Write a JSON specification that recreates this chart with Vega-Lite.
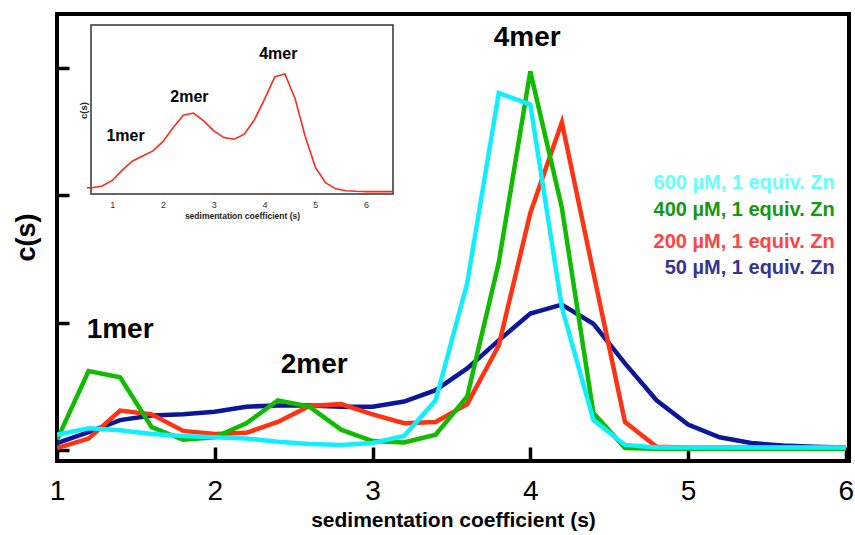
{
  "$schema": "https://vega.github.io/schema/vega-lite/v6.json",
  "autosize": {"type": "none"},
  "padding": {"left": 57, "top": 14, "right": 6, "bottom": 74},
  "width": 792,
  "height": 447,
  "background": "white",
  "view": {"stroke": "black", "strokeWidth": 4},
  "config": {"font": "Liberation Sans", "axis": {"grid": false}},
  "datasets": {
    "curves": [
      {"sample": "50", "s": 1.0, "c": 0.055}, {"sample": "50", "s": 1.2, "c": 0.14}, {"sample": "50", "s": 1.4, "c": 0.235}, {"sample": "50", "s": 1.6, "c": 0.27}, {"sample": "50", "s": 1.8, "c": 0.28}, {"sample": "50", "s": 2.0, "c": 0.30}, {"sample": "50", "s": 2.2, "c": 0.34}, {"sample": "50", "s": 2.4, "c": 0.35}, {"sample": "50", "s": 2.6, "c": 0.35}, {"sample": "50", "s": 2.8, "c": 0.34}, {"sample": "50", "s": 3.0, "c": 0.34}, {"sample": "50", "s": 3.2, "c": 0.38}, {"sample": "50", "s": 3.4, "c": 0.47}, {"sample": "50", "s": 3.6, "c": 0.64}, {"sample": "50", "s": 3.8, "c": 0.86}, {"sample": "50", "s": 4.0, "c": 1.07}, {"sample": "50", "s": 4.2, "c": 1.14}, {"sample": "50", "s": 4.4, "c": 0.99}, {"sample": "50", "s": 4.6, "c": 0.68}, {"sample": "50", "s": 4.8, "c": 0.39}, {"sample": "50", "s": 5.0, "c": 0.20}, {"sample": "50", "s": 5.2, "c": 0.10}, {"sample": "50", "s": 5.4, "c": 0.055}, {"sample": "50", "s": 5.6, "c": 0.035}, {"sample": "50", "s": 5.8, "c": 0.025}, {"sample": "50", "s": 6.0, "c": 0.02},
      {"sample": "200", "s": 1.0, "c": 0.015}, {"sample": "200", "s": 1.2, "c": 0.09}, {"sample": "200", "s": 1.4, "c": 0.31}, {"sample": "200", "s": 1.6, "c": 0.28}, {"sample": "200", "s": 1.8, "c": 0.15}, {"sample": "200", "s": 2.0, "c": 0.125}, {"sample": "200", "s": 2.2, "c": 0.135}, {"sample": "200", "s": 2.4, "c": 0.22}, {"sample": "200", "s": 2.6, "c": 0.345}, {"sample": "200", "s": 2.8, "c": 0.36}, {"sample": "200", "s": 3.0, "c": 0.28}, {"sample": "200", "s": 3.2, "c": 0.21}, {"sample": "200", "s": 3.4, "c": 0.22}, {"sample": "200", "s": 3.6, "c": 0.36}, {"sample": "200", "s": 3.8, "c": 0.82}, {"sample": "200", "s": 4.0, "c": 1.86}, {"sample": "200", "s": 4.2, "c": 2.57}, {"sample": "200", "s": 4.4, "c": 1.39}, {"sample": "200", "s": 4.6, "c": 0.22}, {"sample": "200", "s": 4.8, "c": 0.025}, {"sample": "200", "s": 5.0, "c": 0.02}, {"sample": "200", "s": 5.2, "c": 0.02}, {"sample": "200", "s": 5.4, "c": 0.02}, {"sample": "200", "s": 5.6, "c": 0.02}, {"sample": "200", "s": 5.8, "c": 0.02}, {"sample": "200", "s": 6.0, "c": 0.02},
      {"sample": "400", "s": 1.0, "c": 0.08}, {"sample": "400", "s": 1.2, "c": 0.62}, {"sample": "400", "s": 1.4, "c": 0.57}, {"sample": "400", "s": 1.6, "c": 0.18}, {"sample": "400", "s": 1.8, "c": 0.08}, {"sample": "400", "s": 2.0, "c": 0.10}, {"sample": "400", "s": 2.2, "c": 0.21}, {"sample": "400", "s": 2.4, "c": 0.39}, {"sample": "400", "s": 2.6, "c": 0.34}, {"sample": "400", "s": 2.8, "c": 0.16}, {"sample": "400", "s": 3.0, "c": 0.07}, {"sample": "400", "s": 3.2, "c": 0.06}, {"sample": "400", "s": 3.4, "c": 0.12}, {"sample": "400", "s": 3.6, "c": 0.42}, {"sample": "400", "s": 3.8, "c": 1.47}, {"sample": "400", "s": 4.0, "c": 2.97}, {"sample": "400", "s": 4.2, "c": 1.90}, {"sample": "400", "s": 4.4, "c": 0.29}, {"sample": "400", "s": 4.6, "c": 0.015}, {"sample": "400", "s": 4.8, "c": 0.01}, {"sample": "400", "s": 5.0, "c": 0.01}, {"sample": "400", "s": 5.2, "c": 0.01}, {"sample": "400", "s": 5.4, "c": 0.01}, {"sample": "400", "s": 5.6, "c": 0.01}, {"sample": "400", "s": 5.8, "c": 0.01}, {"sample": "400", "s": 6.0, "c": 0.01},
      {"sample": "600", "s": 1.0, "c": 0.12}, {"sample": "600", "s": 1.2, "c": 0.17}, {"sample": "600", "s": 1.4, "c": 0.155}, {"sample": "600", "s": 1.6, "c": 0.125}, {"sample": "600", "s": 1.8, "c": 0.11}, {"sample": "600", "s": 2.0, "c": 0.10}, {"sample": "600", "s": 2.2, "c": 0.09}, {"sample": "600", "s": 2.4, "c": 0.065}, {"sample": "600", "s": 2.6, "c": 0.047}, {"sample": "600", "s": 2.8, "c": 0.04}, {"sample": "600", "s": 3.0, "c": 0.055}, {"sample": "600", "s": 3.2, "c": 0.11}, {"sample": "600", "s": 3.4, "c": 0.39}, {"sample": "600", "s": 3.6, "c": 1.31}, {"sample": "600", "s": 3.8, "c": 2.80}, {"sample": "600", "s": 4.0, "c": 2.71}, {"sample": "600", "s": 4.2, "c": 1.12}, {"sample": "600", "s": 4.4, "c": 0.235}, {"sample": "600", "s": 4.6, "c": 0.04}, {"sample": "600", "s": 4.8, "c": 0.02}, {"sample": "600", "s": 5.0, "c": 0.02}, {"sample": "600", "s": 5.2, "c": 0.02}, {"sample": "600", "s": 5.4, "c": 0.02}, {"sample": "600", "s": 5.6, "c": 0.02}, {"sample": "600", "s": 5.8, "c": 0.02}, {"sample": "600", "s": 6.0, "c": 0.02}
    ],
    "peaks": [
      {"label": "1mer", "s": 1.40, "c": 0.94},
      {"label": "2mer", "s": 2.63, "c": 0.67},
      {"label": "4mer", "s": 3.98, "c": 3.23}
    ],
    "legendRows": [
      {"sample": "600", "text": "600 µM, 1 equiv. Zn", "s": 5.93, "c": 2.094},
      {"sample": "400", "text": "400 µM, 1 equiv. Zn", "s": 5.93, "c": 1.882},
      {"sample": "200", "text": "200 µM, 1 equiv. Zn", "s": 5.93, "c": 1.631},
      {"sample": "50", "text": "50 µM, 1 equiv. Zn", "s": 5.93, "c": 1.427}
    ],
    "inset": [
      {"s": 0.5, "c": 0.09}, {"s": 0.6, "c": 0.09}, {"s": 0.8, "c": 0.12}, {"s": 1.0, "c": 0.22}, {"s": 1.2, "c": 0.41}, {"s": 1.4, "c": 0.57}, {"s": 1.6, "c": 0.66}, {"s": 1.8, "c": 0.75}, {"s": 2.0, "c": 0.92}, {"s": 2.2, "c": 1.17}, {"s": 2.4, "c": 1.39}, {"s": 2.6, "c": 1.43}, {"s": 2.8, "c": 1.29}, {"s": 3.0, "c": 1.11}, {"s": 3.2, "c": 0.99}, {"s": 3.4, "c": 0.96}, {"s": 3.6, "c": 1.05}, {"s": 3.8, "c": 1.31}, {"s": 4.0, "c": 1.68}, {"s": 4.2, "c": 2.08}, {"s": 4.4, "c": 2.13}, {"s": 4.6, "c": 1.69}, {"s": 4.8, "c": 1.01}, {"s": 5.0, "c": 0.46}, {"s": 5.2, "c": 0.18}, {"s": 5.4, "c": 0.07}, {"s": 5.6, "c": 0.035}, {"s": 5.8, "c": 0.025}, {"s": 6.0, "c": 0.02}, {"s": 6.2, "c": 0.02}, {"s": 6.4, "c": 0.02}, {"s": 6.53, "c": 0.02}
    ],
    "insetPeaks": [
      {"label": "1mer", "s": 1.26, "c": 1.02},
      {"label": "2mer", "s": 2.52, "c": 1.71},
      {"label": "4mer", "s": 4.27, "c": 2.49}
    ],
    "insetFrame": [
      {"s": 0.58, "s2": 6.53, "c": -0.023, "c2": 3.01}
    ]
  },
  "resolve": {
    "scale": {"x": "independent", "y": "independent"},
    "axis": {"x": "independent", "y": "independent"}
  },
  "layer": [
    {
      "encoding": {
        "x": {"field": "s", "type": "quantitative",
          "scale": {"domain": [1, 6.02], "nice": false, "zero": false},
          "axis": {"orient": "bottom", "values": [1, 2, 3, 4, 5, 6], "domain": false, "tickSize": -14, "tickWidth": 3.5, "tickColor": "black",
            "labelFontSize": 28, "labelColor": "black", "labelFlush": false, "labelPadding": 30,
            "title": "sedimentation coefficient (s)", "titleFontSize": 21, "titleFontWeight": "bold", "titleColor": "black", "titleY": 65, "titleBaseline": "alphabetic"}},
        "y": {"field": "c", "type": "quantitative",
          "scale": {"domain": [-0.086, 3.42], "nice": false, "zero": false},
          "axis": {"orient": "left", "values": [0, 1, 2, 3], "labels": false, "domain": false, "tickSize": -12, "tickWidth": 3.5, "tickColor": "black",
            "title": "c(s)", "titleFontSize": 27, "titleFontWeight": "bold", "titleColor": "black", "titleX": -31, "titleY": 223, "titleBaseline": "middle"}}
      },
      "layer": [
        {
          "data": {"name": "curves"},
          "mark": {"type": "line", "strokeWidth": 4.5, "clip": true},
          "encoding": {
            "stroke": {"field": "sample", "type": "nominal", "legend": null,
              "scale": {"domain": ["50", "200", "400", "600"], "range": ["#0A179C", "#FF3311", "#11BB00", "#11EEFF"]}}
          }
        },
        {
          "data": {"name": "peaks"},
          "mark": {"type": "text", "fontWeight": "bold", "fontSize": 28, "color": "black"},
          "encoding": {"text": {"field": "label"}}
        },
        {
          "data": {"name": "legendRows"},
          "mark": {"type": "text", "fontWeight": "bold", "fontSize": 20, "align": "right", "baseline": "middle"},
          "encoding": {
            "text": {"field": "text"},
            "fill": {"field": "sample", "type": "nominal", "legend": null,
              "scale": {"domain": ["50", "200", "400", "600"], "range": ["#333399", "#FF4444", "#119911", "#66FFFF"]}}
          }
        }
      ]
    },
    {
      "encoding": {
        "x": {"field": "s", "type": "quantitative",
          "scale": {"domain": [0.58, 6.53], "nice": false, "zero": false, "range": [34, 336]},
          "axis": {"orient": "bottom", "offset": -267, "values": [1, 2, 3, 4, 5, 6], "domain": false, "tickSize": -4, "tickWidth": 1.2, "tickColor": "#333",
            "labelFontSize": 9, "labelColor": "#333", "labelFlush": false, "labelPadding": 10,
            "title": "sedimentation coefficient (s)", "titleFontSize": 8.5, "titleFontWeight": "bold", "titleColor": "#222", "titleY": 21, "titleBaseline": "middle"}},
        "y": {"field": "c", "type": "quantitative",
          "scale": {"domain": [-0.023, 3.01], "nice": false, "zero": false, "range": [180, 11]},
          "axis": {"orient": "left", "offset": -34, "values": [0, 1, 2, 3], "labels": false, "domain": false, "tickSize": -4, "tickWidth": 1.2, "tickColor": "#333",
            "title": "c(s)", "titleFontSize": 9.5, "titleFontWeight": "bold", "titleColor": "#222", "titleX": -8, "titleY": 96, "titleBaseline": "middle"}}
      },
      "layer": [
        {
          "data": {"name": "insetFrame"},
          "mark": {"type": "rect", "fill": "white", "stroke": "#333", "strokeWidth": 1.5},
          "encoding": {
            "x2": {"field": "s2"},
            "y2": {"field": "c2"}
          }
        },
        {
          "data": {"name": "inset"},
          "mark": {"type": "line", "color": "#FF2A1A", "strokeWidth": 1.6}
        },
        {
          "data": {"name": "insetPeaks"},
          "mark": {"type": "text", "fontWeight": "bold", "fontSize": 16, "color": "black"},
          "encoding": {"text": {"field": "label"}}
        }
      ]
    }
  ]
}
